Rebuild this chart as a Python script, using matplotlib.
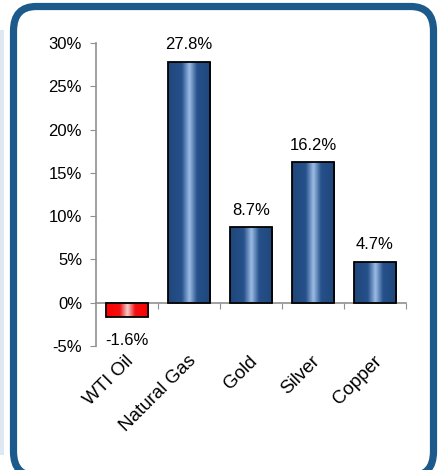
import numpy as np
import matplotlib
matplotlib.use('Agg')
import matplotlib.pyplot as plt
from matplotlib.colors import LinearSegmentedColormap
from matplotlib.patches import FancyBboxPatch, Rectangle
from matplotlib.ticker import FuncFormatter

categories = ['WTI Oil', 'Natural Gas', 'Gold', 'Silver', 'Copper']
values = [-1.6, 27.8, 8.7, 16.2, 4.7]
yticks = [-5, 0, 5, 10, 15, 20, 25, 30]

plt.rcParams['font.family'] = ['Liberation Sans', 'DejaVu Sans']

blue_cm = LinearSegmentedColormap.from_list(
    'bluebar', [(0, '#1f477a'), (0.32, '#25508a'), (0.5, '#9cbde6'), (0.68, '#25508a'), (1, '#1f477a')])
red_cm = LinearSegmentedColormap.from_list(
    'redbar', [(0, '#ff0000'), (0.32, '#f21010'), (0.5, '#f4d0d0'), (0.68, '#f21010'), (1, '#ff0000')])

W, H = 438, 470
fig = plt.figure(figsize=(W / 100, H / 100), dpi=100)

# light strip on the far left and rounded frame
fig.patches.append(Rectangle((0, 15 / H), 4 / W, 425 / H, transform=fig.transFigure,
                             facecolor='#dfe7f1', edgecolor='none', zorder=0))
frame = FancyBboxPatch((13.5 / W, -6 / H), 420 / W, (H + 6 - 6.5) / H,
                       boxstyle='round,pad=0,rounding_size=0.052',
                       transform=fig.transFigure, facecolor='white',
                       edgecolor='#1b5a8a', linewidth=5.2, zorder=0.5)
fig.patches.append(frame)

ax = fig.add_axes([96 / W, 1 - 346 / H, 310 / W, 303 / H])
ax.set_zorder(2)
ax.set_facecolor('none')

width = 0.68
grad = np.linspace(0, 1, 200).reshape(1, -1)
for i, v in enumerate(values):
    x0 = i - width / 2
    lo, hi = min(0, v), max(0, v)
    cm = red_cm if v < 0 else blue_cm
    ax.imshow(grad, cmap=cm, aspect='auto', extent=(x0, x0 + width, lo, hi),
              interpolation='bicubic', zorder=2)
    ax.add_patch(Rectangle((x0, lo), width, hi - lo, facecolor='none',
                           edgecolor='black', linewidth=1.3, zorder=3))
    if v >= 0:
        ax.annotate(f'{v:.1f}%', (i, v), xytext=(0, 7), textcoords='offset points',
                    ha='center', va='bottom', fontsize=12)
    else:
        ax.annotate(f'{v:.1f}%', (i, v), xytext=(0, -12), textcoords='offset points',
                    ha='center', va='top', fontsize=12)

ax.set_xlim(-0.5, len(categories) - 0.5)
ax.set_ylim(-5, 30)

for s in ['top', 'right']:
    ax.spines[s].set_visible(False)
ax.spines['left'].set_color('#909090')
ax.spines['bottom'].set_color('#909090')
ax.spines['bottom'].set_position(('data', 0))
ax.spines['left'].set_linewidth(1.2)
ax.spines['bottom'].set_linewidth(1.2)

ax.set_yticks(yticks)
ax.yaxis.set_major_formatter(FuncFormatter(lambda y, p: f'{y:.0f}%'))
ax.tick_params(axis='y', length=4, color='#909090', labelsize=12, pad=6)
ax.set_xticks(np.arange(len(categories)) + 0.5)
ax.set_xticklabels([])
ax.tick_params(axis='x', length=4, color='#909090')

for i, c in enumerate(categories):
    ax.annotate(c, (i, 0), xycoords=('data', 'axes fraction'), xytext=(3, -9),
                textcoords='offset points', rotation=45, rotation_mode='anchor',
                ha='right', va='center', fontsize=13.5)

fig.savefig('out.png', dpi=100)
